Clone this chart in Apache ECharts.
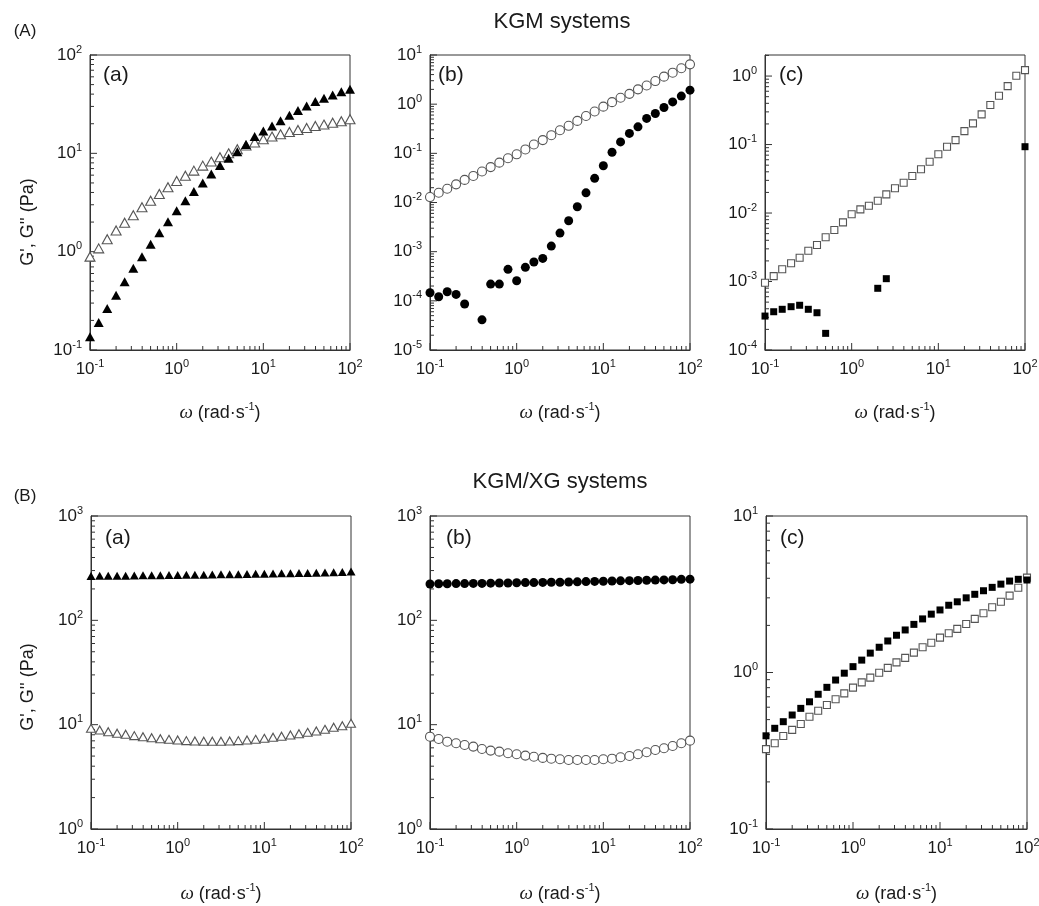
<!DOCTYPE html>
<html>
<head>
<meta charset="utf-8">
<script src="https://cdn.jsdelivr.net/npm/echarts@6/dist/echarts.min.js"></script>
<style>
  html, body { margin: 0; background: #fff; }
  #chart { width: 1039px; height: 906px; }
</style>
</head>
<body>
<div id="chart"></div>
<script>
// angular frequency, rad/s (10 points per decade)
const omega = [0.1, 0.126, 0.158, 0.2, 0.251, 0.316, 0.398, 0.501, 0.631, 0.794,
  1, 1.26, 1.58, 2, 2.51, 3.16, 3.98, 5.01, 6.31, 7.94,
  10, 12.6, 15.8, 20, 25.1, 31.6, 39.8, 50.1, 63.1, 79.4, 100];

// (A) KGM systems
const kgmA_Gpp = [0.89, 1.08, 1.34, 1.64, 1.97, 2.35, 2.83, 3.3, 3.86, 4.52, 5.24, 5.93, 6.67, 7.5, 8.24, 9.12,
  10.0, 11.0, 12.0, 12.9, 13.9, 14.8, 15.6, 16.5, 17.3, 18.1, 19.0, 19.6, 20.5, 21.2, 22.2];
const kgmA_Gp = [0.136, 0.19, 0.265, 0.36, 0.495, 0.68, 0.89, 1.19, 1.56, 2.02, 2.6, 3.3, 4.08, 5.0, 6.16, 7.5,
  8.9, 10.4, 12.3, 14.8, 16.9, 19.0, 21.5, 24.4, 27.2, 30.3, 33.6, 36.3, 39.2, 42.4, 44.8];
const kgmB_Gpp = [0.0129, 0.0158, 0.019, 0.0234, 0.0288, 0.0347, 0.0427, 0.0525, 0.0646, 0.0794, 0.0955,
  0.12, 0.151, 0.186, 0.234, 0.295, 0.363, 0.457, 0.575, 0.708, 0.891, 1.1, 1.35, 1.62, 2.0, 2.4, 2.95,
  3.63, 4.37, 5.37, 6.46];
const kgmB_Gp = [1.46e-4, 1.21e-4, 1.53e-4, 1.35e-4, 8.6e-5, null, 4.1e-5, 2.19e-4, 2.19e-4, 4.37e-4, 2.56e-4,
  4.8e-4, 6.15e-4, 7.3e-4, 1.3e-3, 2.39e-3, 4.25e-3, 8.2e-3, 0.0157, 0.031, 0.0558, 0.105, 0.171, 0.254,
  0.346, 0.513, 0.647, 0.857, 1.11, 1.46, 1.93];
const kgmC_Gpp = [9.6e-4, 1.2e-3, 1.51e-3, 1.85e-3, 2.22e-3, 2.82e-3, 3.41e-3, 4.42e-3, 5.65e-3, 7.3e-3, 9.6e-3,
  0.0113, 0.0128, 0.0151, 0.0187, 0.023, 0.0277, 0.0347, 0.0435, 0.0561, 0.072, 0.093, 0.116, 0.157,
  0.204, 0.276, 0.378, 0.515, 0.714, 1.01, 1.22];
const kgmC_Gp = [3.13e-4, 3.62e-4, 3.93e-4, 4.29e-4, 4.5e-4, 3.93e-4, 3.5e-4, 1.75e-4, null, null, null, null, null,
  7.96e-4, 1.1e-3, null, null, null, null, null, null, null, null, null, null, null, null, null, null, null, 0.093];

// (B) KGM/XG systems
const xgA_Gp = [266, 267, 267, 268, 268, 269, 270, 270, 271, 272, 272, 273, 274, 274, 275, 276, 277, 277, 278,
  279, 280, 281, 282, 283, 284, 285, 286, 288, 289, 291, 293];
const xgA_Gpp = [9.23, 8.9, 8.57, 8.27, 8.09, 7.85, 7.67, 7.5, 7.34, 7.24, 7.13, 7.03, 6.98, 6.93, 6.93, 6.93,
  6.98, 7.03, 7.13, 7.24, 7.4, 7.57, 7.74, 7.96, 8.2, 8.45, 8.7, 9.03, 9.44, 9.78, 10.3];
const xgB_Gp = [223, 224, 224, 225, 225, 226, 226, 227, 228, 228, 229, 230, 230, 231, 232, 232, 233, 234, 235,
  236, 237, 238, 239, 240, 241, 242, 243, 244, 245, 247, 248];
const xgB_Gpp = [7.67, 7.29, 6.87, 6.63, 6.39, 6.16, 5.85, 5.64, 5.51, 5.32, 5.2, 5.05, 4.93, 4.8, 4.72, 4.66,
  4.59, 4.59, 4.59, 4.59, 4.66, 4.72, 4.87, 5.01, 5.2, 5.44, 5.72, 5.94, 6.25, 6.63, 7.03];
const xgC_Gp = [0.394, 0.44, 0.485, 0.535, 0.59, 0.65, 0.726, 0.804, 0.895, 0.99, 1.09, 1.2, 1.33, 1.45, 1.59,
  1.73, 1.87, 2.03, 2.2, 2.36, 2.51, 2.69, 2.83, 3.0, 3.16, 3.33, 3.5, 3.67, 3.84, 3.94, 3.9];
const xgC_Gpp = [0.324, 0.353, 0.393, 0.43, 0.469, 0.522, 0.57, 0.62, 0.674, 0.736, 0.8, 0.865, 0.927, 0.997,
  1.07, 1.16, 1.24, 1.34, 1.45, 1.55, 1.67, 1.78, 1.9, 2.04, 2.2, 2.39, 2.61, 2.83, 3.1, 3.48, 4.04];

// decade ticks
const xTicks = [0.1, 1, 10, 100];
const yTicksKgmA = [0.1, 1, 10, 100];
const yTicksKgmB = [1e-5, 1e-4, 1e-3, 1e-2, 0.1, 1, 10];
const yTicksKgmC = [1e-4, 1e-3, 1e-2, 0.1, 1];
const yTicksXgAB = [1, 10, 100, 1000];
const yTicksXgC = [0.1, 1, 10];

const FONT = '"Liberation Sans", Arial, Helvetica, sans-serif';
const INK = '#1a1a1a';
const FRAME = '#333';

const panels = [
  { left: 90, top: 55, width: 260, height: 295, yMin: 0.1, yMax: 100, yTicks: yTicksKgmA,
    open: kgmA_Gpp, filled: kgmA_Gp, symbol: 'triangle', size: [10, 9], tag: '(a)', tagDx: 13 },
  { left: 430, top: 55, width: 260, height: 295, yMin: 1e-5, yMax: 10, yTicks: yTicksKgmB,
    open: kgmB_Gpp, filled: kgmB_Gp, symbol: 'circle', size: 9, tag: '(b)', tagDx: 8 },
  { left: 765, top: 55, width: 260, height: 295, yMin: 1e-4, yMax: 2.03, yTicks: yTicksKgmC,
    open: kgmC_Gpp, filled: kgmC_Gp, symbol: 'rect', size: 7, tag: '(c)', tagDx: 14 },
  { left: 91, top: 516, width: 260, height: 313, yMin: 1, yMax: 1000, yTicks: yTicksXgAB,
    open: xgA_Gpp, filled: xgA_Gp, symbol: 'triangle', size: [9, 8], tag: '(a)', tagDx: 14 },
  { left: 430, top: 516, width: 260, height: 313, yMin: 1, yMax: 1000, yTicks: yTicksXgAB,
    open: xgB_Gpp, filled: xgB_Gp, symbol: 'circle', size: 9, tag: '(b)', tagDx: 16 },
  { left: 766, top: 516, width: 261, height: 313, yMin: 0.1, yMax: 10, yTicks: yTicksXgC,
    open: xgC_Gpp, filled: xgC_Gp, symbol: 'rect', size: 7, tag: '(c)', tagDx: 14 }
];

// 2..9 multiples inside each decade, kept within [lo, hi]
function minorTicks(decades, lo, hi) {
  const out = [];
  const ext = decades.concat([decades[decades.length - 1] * 10]);
  for (let i = 0; i < ext.length - 1; i++) {
    for (let m = 2; m <= 9; m++) {
      const v = +(ext[i] * m).toPrecision(3);
      if (v >= lo && v <= hi) out.push(v);
    }
  }
  return out;
}

const pow10 = v => {
  const e = Math.round(Math.log10(v));
  return '{b|10}{s|' + (e < 0 ? '-' + (-e) : e) + '}';
};

const tickRich = {
  b: { fontSize: 17, fontFamily: FONT, color: INK, lineHeight: 22 },
  s: { fontSize: 11, fontFamily: FONT, color: INK, lineHeight: 12, verticalAlign: 'top' }
};

const nameRich = {
  w: { fontSize: 19, fontFamily: '"Liberation Serif", "DejaVu Serif", serif', fontStyle: 'italic', color: INK, lineHeight: 24 },
  r: { fontSize: 18, fontFamily: FONT, color: INK, lineHeight: 24 },
  s: { fontSize: 11, fontFamily: FONT, color: INK, lineHeight: 12, verticalAlign: 'top' }
};

// inward tick marks drawn as thin rect symbols sitting on the axes
const xTick = (v, y, len) => ({ value: [v, y], symbolSize: [1, len], symbolOffset: [0, -len / 2] });
const yTick = (v, x, len) => ({ value: [x, v], symbolSize: [len, 1], symbolOffset: [len / 2, 0] });

const grid = [], xAxis = [], yAxis = [], series = [], graphic = [];

panels.forEach((p, i) => {
  grid.push({ left: p.left, top: p.top, width: p.width, height: p.height,
    show: true, borderColor: FRAME, borderWidth: 1, containLabel: false, outerBoundsMode: 'none' });

  const line = { color: FRAME, width: 1 };
  xAxis.push({
    type: 'log', gridIndex: i, min: 0.1, max: 100, position: 'bottom',
    axisLine: { show: true, onZero: false, lineStyle: line },
    axisTick: { show: false },
    axisLabel: { customValues: xTicks, formatter: pow10, rich: tickRich, margin: 8 },
    splitLine: { show: false },
    name: '{w|ω}{r| (rad·s}{s|-1}{r|)}',
    nameLocation: 'middle', nameGap: i < 3 ? 51 : 53,
    nameTextStyle: { rich: nameRich }
  });
  yAxis.push({
    type: 'log', gridIndex: i, min: p.yMin, max: p.yMax, position: 'left',
    axisLine: { show: true, onZero: false, lineStyle: line },
    axisTick: { show: false },
    axisLabel: { customValues: p.yTicks, formatter: pow10, rich: tickRich, margin: 8 },
    splitLine: { show: false }
  });

  const ticks = []
    .concat(xTicks.map(v => xTick(v, p.yMin, 7)))
    .concat(minorTicks(xTicks, 0.1, 100).map(v => xTick(v, p.yMin, 4)))
    .concat(p.yTicks.map(v => yTick(v, 0.1, 7)))
    .concat(minorTicks(p.yTicks, p.yMin, p.yMax).map(v => yTick(v, 0.1, 4)));
  series.push({
    type: 'scatter', xAxisIndex: i, yAxisIndex: i, data: ticks, symbol: 'rect',
    clip: false, silent: true, z: 1,
    itemStyle: { color: FRAME, opacity: 1 }
  });

  const pts = ys => omega.map((x, k) => [x, ys[k]]).filter(d => d[1] != null);

  series.push({
    type: 'scatter', xAxisIndex: i, yAxisIndex: i, data: pts(p.open),
    symbol: p.symbol, symbolSize: p.size, clip: false, z: 2,
    itemStyle: { color: '#fff', borderColor: '#555', borderWidth: 1.1, opacity: 1 }
  });
  series.push({
    type: 'scatter', xAxisIndex: i, yAxisIndex: i, data: pts(p.filled),
    symbol: p.symbol, symbolSize: p.size, clip: false, z: 3,
    itemStyle: { color: '#000', opacity: 1 }
  });

  graphic.push({
    type: 'text', x: p.left + p.tagDx, y: p.top + (i < 3 ? 20 : 22),
    style: { text: p.tag, fontSize: 21, fontFamily: FONT, fill: INK,
      align: 'left', verticalAlign: 'middle', textAlign: 'left', textVerticalAlign: 'middle' }
  });
});

const label = (text, x, y, size, rot) => ({
  type: 'text', x: x, y: y, rotation: rot || 0,
  style: { text: text, fontSize: size, fontFamily: FONT, fill: INK,
    align: 'center', verticalAlign: 'middle', textAlign: 'center', textVerticalAlign: 'middle' }
});

graphic.push(
  label('KGM systems', 562, 22, 22),
  label('KGM/XG systems', 560, 482, 22),
  label('(A)', 25, 31, 17),
  label('(B)', 25, 496, 17),
  label("G', G'' (Pa)", 28, 222, 18, Math.PI / 2),
  label("G', G'' (Pa)", 28, 687, 18, Math.PI / 2)
);

const chart = echarts.init(document.getElementById('chart'));
chart.setOption({
  animation: false,
  backgroundColor: '#fff',
  grid, xAxis, yAxis, series, graphic
});
</script>
</body>
</html>
